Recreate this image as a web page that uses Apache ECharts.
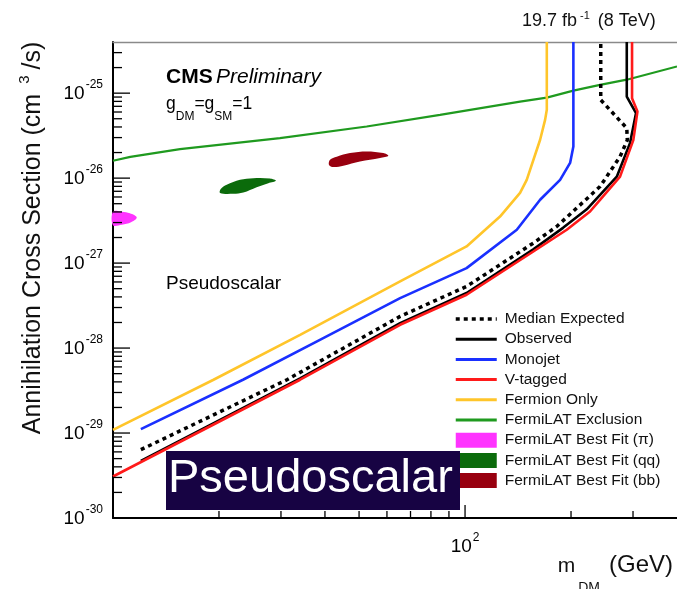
<!DOCTYPE html>
<html><head><meta charset="utf-8">
<script src="https://cdn.jsdelivr.net/npm/echarts@6/dist/echarts.min.js"></script>
<style>html,body{margin:0;padding:0;background:#fff}#c{width:677px;height:589px}</style>
</head><body><div id="c"></div>
<script>
// ---- data (mass in GeV, cross section in cm^3/s) ----
const fermionMass = [10, 19.3, 34, 65.4, 101, 125.7, 143.3, 149.7, 163.4, 168.8, 170.7, 170.7];
const fermionXsec = [1.09e-29, 4.24e-29, 1.43e-28, 6.08e-28, 1.57e-27, 3.53e-27, 6.7e-27, 9.55e-27, 2.83e-26, 4.85e-26, 6.37e-26, 4e-25];
const monoMass = [12, 23.4, 38.7, 65.4, 101, 140.3, 163.4, 186.2, 198.8, 203.1, 203.1];
const monoXsec = [1.11e-29, 4.24e-29, 1.25e-28, 3.87e-28, 8.73e-28, 2.47e-27, 5.56e-27, 9.55e-27, 1.51e-26, 2.36e-26, 4e-25];
const expMass = [12, 31.2, 65.4, 101, 156.3, 182.2, 241.8, 275.6, 289, 288, 242.9, 242.9];
const expXsec = [6.37e-30, 4.24e-29, 2.36e-28, 5.31e-28, 1.72e-27, 2.7e-27, 7.96e-27, 1.79e-26, 2.8e-26, 3.87e-26, 8.34e-26, 4e-25];
const obsMass = [12, 34, 65.4, 101, 156.3, 189.8, 221.7, 269.8, 294.3, 306, 288, 288];
const obsXsec = [4.7e-30, 4.4e-29, 1.96e-28, 4.45e-28, 1.45e-27, 2.6e-27, 4.3e-27, 1.04e-26, 2.6e-26, 5.82e-26, 9.12e-26, 4e-25];
const vtagMass = [10, 34, 65.4, 101, 156.3, 194.5, 226.5, 241.8, 275.6, 300.6, 308.8, 298.1, 298.1];
const vtagXsec = [3.08e-30, 4.24e-29, 1.88e-28, 4.24e-28, 1.37e-27, 2.47e-27, 4.05e-27, 5.56e-27, 1.04e-26, 2.8e-26, 6.08e-26, 8.73e-26, 4e-25];
const fermiMass = [10, 11.2, 15.5, 29.8, 52.56, 84.9, 143.3, 170.7, 203.1, 241.8, 288, 400];
const fermiXsec = [1.6e-26, 1.78e-26, 2.19e-26, 2.96e-26, 4.05e-26, 5.56e-26, 7.96e-26, 8.87e-26, 1.07e-25, 1.25e-25, 1.44e-25, 2.06e-25];
const piMass = [10, 10.6, 11.17, 11.68, 11.25, 10.6, 10];
const piXsec = [4.02e-27, 4.02e-27, 3.85e-27, 3.44e-27, 3.02e-27, 2.82e-27, 2.79e-27];
const qqMass = [20.14, 20.23, 21.04, 22.95, 25.04, 27.93, 29.04, 27.62, 25.59, 23.45, 21.97];
const qqXsec = [6.67e-27, 7.43e-27, 8.34e-27, 9.55e-27, 1.0e-26, 9.89e-27, 9.29e-27, 8.73e-27, 7.83e-27, 6.78e-27, 6.53e-27];
const bbMass = [41.07, 41.35, 43.2, 47.13, 52.56, 58.6, 60.54, 57.35, 50.3, 45.11, 42.26];
const bbXsec = [1.43e-26, 1.64e-26, 1.79e-26, 1.97e-26, 2.06e-26, 1.97e-26, 1.83e-26, 1.72e-26, 1.57e-26, 1.40e-26, 1.35e-26];
// axis ticks (cross-section values in cm^3/s)
const xMajorTicks = [100];
const xMinorTicks = [20, 30, 40, 50, 60, 70, 80, 90, 200, 300];
const yMajorTicks = [1e-30, 1e-29, 1e-28, 1e-27, 1e-26, 1e-25];
const yMinorTicks = [2e-30,3e-30,4e-30,5e-30,6e-30,7e-30,8e-30,9e-30,
  2e-29,3e-29,4e-29,5e-29,6e-29,7e-29,8e-29,9e-29,
  2e-28,3e-28,4e-28,5e-28,6e-28,7e-28,8e-28,9e-28,
  2e-27,3e-27,4e-27,5e-27,6e-27,7e-27,8e-27,9e-27,
  2e-26,3e-26,4e-26,5e-26,6e-26,7e-26,8e-26,9e-26,
  2e-25,3e-25];
const X_MIN = 10, X_MAX = 400, Y_MIN = 1e-30, Y_MAX = 4e-25;
// ECharts rounds tiny numbers to 20 digits, so the y axis works in units of 1e-30 cm^3/s
const Y_UNIT = 1e-30;
const ys = v => v / Y_UNIT;

const FONT = '"Liberation Sans", Arial, Helvetica, sans-serif';
const zip = (a, b) => a.map((v, i) => [v, ys(b[i])]);

function lineSeries(name, ms, xs, color, width, type, z) {
  return { type: 'line', name, data: zip(ms, xs), symbol: 'none', showSymbol: false,
    lineStyle: { color, width, type: type || 'solid' }, itemStyle: { color }, z, silent: true, animation: false };
}
function polySeries(name, ms, xs, color) {
  return { type: 'custom', name, itemStyle: { color }, z: 4, animation: false, silent: true,
    data: [[ms[0], ys(xs[0])]],
    renderItem: (params, api) => ({
      type: 'polygon',
      shape: { points: ms.map((m, i) => api.coord([m, ys(xs[i])])), smooth: 0.35 },
      style: { fill: api.visual('color') }
    }) };
}
// tick data: [x, y, kind] kind 0 = x major, 1 = x minor, 2 = y major, 3 = y minor
const tickData = [].concat(
  xMajorTicks.map(v => [v, ys(Y_MIN), 0]),
  xMinorTicks.map(v => [v, ys(Y_MIN), 1]),
  yMajorTicks.map(v => [X_MIN, ys(v), 2]),
  yMinorTicks.map(v => [X_MIN, ys(v), 3])
);

const chart = echarts.init(document.getElementById('c'), null, { renderer: 'canvas' });
const legendNames = ['Median Expected', 'Observed', 'Monojet', 'V-tagged', 'Fermion Only', 'FermiLAT Exclusion',
  'FermiLAT Best Fit (π)', 'FermiLAT Best Fit (qq)', 'FermiLAT Best Fit (bb)'];

const supRich = {
  b: { fontSize: 19, lineHeight: 20, verticalAlign: 'bottom', color: '#000', fontFamily: FONT },
  s: { fontSize: 12, lineHeight: 12, verticalAlign: 'bottom', padding: [0, 0, 12, 1], color: '#000', fontFamily: FONT }
};

chart.setOption({
  animation: false,
  backgroundColor: '#fff',
  textStyle: { fontFamily: FONT },
  grid: { left: 113, right: 0, top: 42, bottom: 71, show: false },
  xAxis: [{
    type: 'log', logBase: 10, min: X_MIN, max: X_MAX,
    axisLine: { show: true, lineStyle: { color: '#000', width: 2 } },
    axisTick: { show: false }, splitLine: { show: false }, minorTick: { show: false },
    axisLabel: {
      margin: 18, showMinLabel: false, showMaxLabel: false,
      formatter: v => Math.abs(v - 100) < 1e-6 ? '{b|10}{s|2}' : '',
      rich: supRich
    }
  }, {
    type: 'log', logBase: 10, min: X_MIN, max: X_MAX, position: 'top',
    axisLine: { show: true, lineStyle: { color: '#8a8a8a', width: 1.3 } },
    axisTick: { show: false }, axisLabel: { show: false }, splitLine: { show: false }
  }],
  yAxis: {
    type: 'log', logBase: 10, min: ys(Y_MIN), max: ys(Y_MAX),
    axisLine: { show: true, lineStyle: { color: '#000', width: 2 } },
    axisTick: { show: false }, splitLine: { show: false }, minorTick: { show: false },
    axisLabel: {
      margin: 10, showMaxLabel: false,
      formatter: v => {
        const e = Math.log10(v * Y_UNIT), r = Math.round(e);
        return Math.abs(e - r) < 1e-6 ? '{b|10}{s|' + r + '}' : '';
      },
      rich: supRich
    }
  },
  legend: {
    orient: 'vertical', left: 454, top: 311, padding: 0, itemGap: 4.2,
    itemWidth: 41, itemHeight: 15, selectedMode: false,
    textStyle: { fontSize: 15.5, color: '#111', fontFamily: FONT, padding: [0, 0, 0, 3] },
    data: legendNames.map((n, i) => i >= 6 ? { name: n, icon: 'rect' }
      : { name: n, itemStyle: { opacity: 0 }, lineStyle: { width: i === 0 ? 3.5 : 3 } })
  },
  series: [
    polySeries('FermiLAT Best Fit (π)', piMass, piXsec, '#ff33ff'),
    polySeries('FermiLAT Best Fit (qq)', qqMass, qqXsec, '#0b6b0b'),
    polySeries('FermiLAT Best Fit (bb)', bbMass, bbXsec, '#98000f'),
    lineSeries('FermiLAT Exclusion', fermiMass, fermiXsec, '#1f9a1f', 2.2, 'solid', 5),
    lineSeries('Fermion Only', fermionMass, fermionXsec, '#ffc52a', 2.6, 'solid', 6),
    lineSeries('Monojet', monoMass, monoXsec, '#1a30ff', 2.6, 'solid', 6),
    lineSeries('Observed', obsMass, obsXsec, '#000', 2.6, 'solid', 7),
    lineSeries('V-tagged', vtagMass, vtagXsec, '#ff1a1a', 2.6, 'solid', 8),
    lineSeries('Median Expected', expMass, expXsec, '#000', 3.5, [4, 4], 9),
    {
      type: 'custom', name: 'ticks', silent: true, z: 10, animation: false, data: tickData,
      renderItem: (params, api) => {
        const p = api.coord([api.value(0), api.value(1)]);
        const k = api.value(2);
        let shape;
        if (k === 0) shape = { x1: p[0], y1: p[1], x2: p[0], y2: p[1] - 13 };
        else if (k === 1) shape = { x1: p[0], y1: p[1], x2: p[0], y2: p[1] - 7 };
        else if (k === 2) shape = { x1: p[0], y1: p[1], x2: p[0] + 17, y2: p[1] };
        else shape = { x1: p[0], y1: p[1], x2: p[0] + 9, y2: p[1] };
        return { type: 'line', shape, style: { stroke: '#000', lineWidth: 1.3 } };
      }
    }
  ],
  graphic: [
    { type: 'text', left: 522, top: 10, z: 100,
      style: { text: '{n|19.7 fb}{s|-1}{n| (8 TeV)}', fontFamily: FONT,
        rich: { n: { fontSize: 18, lineHeight: 18, verticalAlign: 'bottom', fill: '#111', fontFamily: FONT },
                s: { fontSize: 11, lineHeight: 11, verticalAlign: 'bottom', padding: [0, 3, 9, 3], fill: '#111', fontFamily: FONT } } } },
    { type: 'text', left: 166, top: 67, z: 100,
      style: { text: '{b|CMS} {i|Preliminary}', fontFamily: FONT,
        rich: { b: { fontSize: 21, fontWeight: 'bold', fill: '#000', fontFamily: FONT },
                i: { fontSize: 21, fontStyle: 'italic', fill: '#000', fontFamily: FONT } } } },
    { type: 'text', left: 166, top: 95, z: 100,
      style: { text: '{m|g}{u|DM}{m|=g}{u|SM}{m|=1}', fontFamily: FONT,
        rich: { m: { fontSize: 17.5, lineHeight: 17, verticalAlign: 'bottom', padding: [0, 0, 10, 0], fill: '#000', fontFamily: FONT },
                u: { fontSize: 12, lineHeight: 12, verticalAlign: 'bottom', fill: '#000', fontFamily: FONT } } } },
    { type: 'text', left: 166, top: 274, z: 100,
      style: { text: 'Pseudoscalar', fontSize: 19, fill: '#000', fontFamily: FONT } },
    { type: 'rect', left: 166, top: 451, z: 100, shape: { width: 294, height: 59 }, style: { fill: '#170343' } },
    { type: 'text', left: 168, top: 456, z: 101,
      style: { text: 'Pseudoscalar', fontSize: 47, fill: '#fff', fontFamily: FONT } },
    { type: 'text', right: 4, top: 553, z: 100,
      style: { text: '{m|m}{u|DM}{g| }{v|(GeV)}', fontFamily: FONT,
        rich: { m: { fontSize: 21, lineHeight: 24, verticalAlign: 'bottom', padding: [0, 3, 12, 0], fill: '#111', fontFamily: FONT },
                v: { fontSize: 24, lineHeight: 24, verticalAlign: 'bottom', padding: [0, 0, 12, 0], fill: '#111', fontFamily: FONT },
                g: { fontSize: 23, lineHeight: 24, width: 9, verticalAlign: 'bottom', fontFamily: FONT },
                u: { fontSize: 14, lineHeight: 14, verticalAlign: 'bottom', padding: [0, 0, -6, 0], fill: '#111', fontFamily: FONT } } } },
    { type: 'text', x: 33, y: 238, rotation: Math.PI / 2, z: 100,
      style: { text: '{m|Annihilation Cross Section (cm}{g| }{s|3}{m|/s)}', fontFamily: FONT, align: 'center', verticalAlign: 'middle',
        rich: { m: { fontSize: 25, lineHeight: 26, verticalAlign: 'bottom', fill: '#111', fontFamily: FONT },
                g: { fontSize: 25, lineHeight: 26, width: 10, verticalAlign: 'bottom', fontFamily: FONT },
                s: { fontSize: 15, lineHeight: 15, verticalAlign: 'bottom', padding: [0, 6, 14, 0], fill: '#111', fontFamily: FONT } } } }
  ]
});
</script>
</body></html>
